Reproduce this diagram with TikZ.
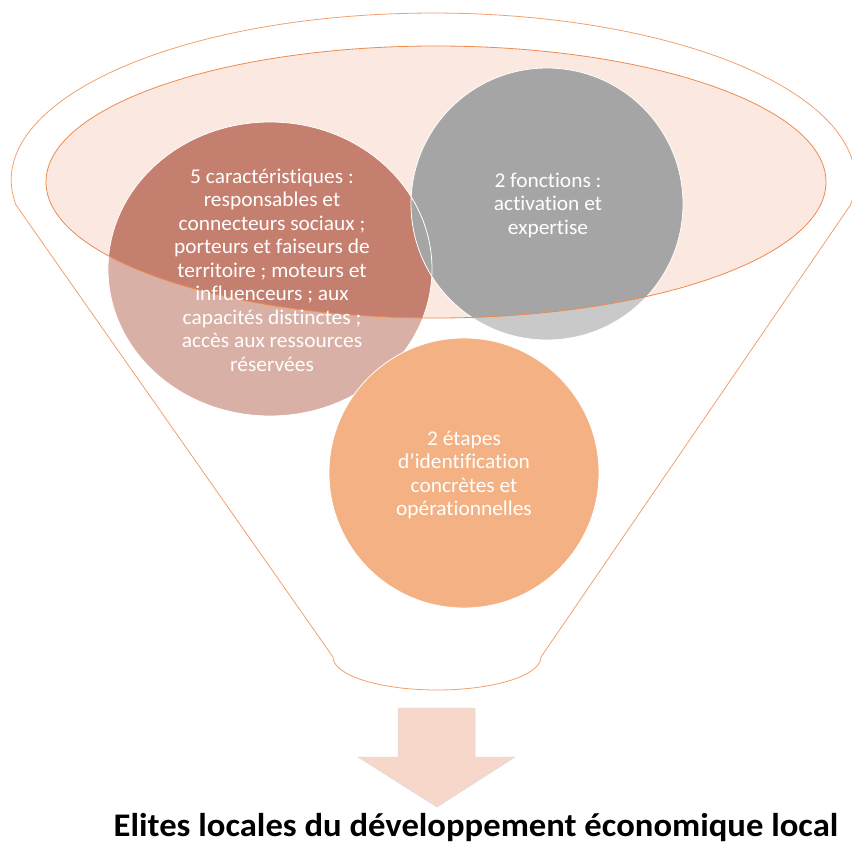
\documentclass[tikz,border=0pt]{standalone}
\usepackage{fontspec}
\setmainfont{Carlito}[Ligatures={NoCommon}]
\definecolor{peach}{HTML}{FBE9E1}
\definecolor{rim}{HTML}{EE8A4E}
\definecolor{funnelline}{HTML}{F2A06C}
\definecolor{browndark}{HTML}{C47F6E}
\definecolor{brownlight}{HTML}{D9B0A6}
\definecolor{graydark}{HTML}{A5A5A5}
\definecolor{graylight}{HTML}{C9C9C9}
\definecolor{orangec}{HTML}{F4B183}
\definecolor{arrowc}{HTML}{F8D7CB}
\tikzset{
  circtext/.style={text=white, align=center, font=\fontsize{21}{23.5}\selectfont, xscale=1.02},
  bubbleedge/.style={draw=white, line width=0.8pt},
}
\begin{document}
\begin{tikzpicture}[x=1pt,y=-1pt]
\useasboundingbox (0,0) rectangle (852,845);
% outer funnel outline
\draw[funnelline, line width=0.8pt]
  (16,205) arc[start angle=171.4, end angle=368.6, x radius=422, y radius=167]
  -- (541,657) arc[start angle=0, end angle=180, x radius=104, y radius=33] -- cycle;
% inner opening
\fill[peach] (436,182) ellipse[x radius=390, y radius=136];
% bubbles, light parts
\fill[brownlight] (270,269) ellipse[x radius=162, y radius=147];
\fill[graylight] (547,204) circle[radius=136];
% darker parts seen through the opening
\begin{scope}
  \clip (436,182) ellipse[x radius=390, y radius=136];
  \fill[browndark] (270,269) ellipse[x radius=162, y radius=147];
  \fill[graydark] (547,204) circle[radius=136];
\end{scope}
\draw[bubbleedge] (270,269) ellipse[x radius=162, y radius=147];
\draw[bubbleedge] (547,204) circle[radius=136];
\draw[rim, line width=0.8pt] (436,182) ellipse[x radius=390, y radius=136];
% orange bubble
\fill[orangec, draw=white, line width=0.8pt] (464,473) circle[radius=135];
% texts
\node[circtext] (t1) at (272,270) {5 caractéristiques :\\responsables et\\connecteurs sociaux ;\\porteurs et faiseurs de\\territoire ; moteurs et\\influenceurs ; aux\\capacités distinctes ;\\accès aux ressources\\réservées};
\node[circtext] (t2) at (548,205) {2 fonctions :\\activation et\\expertise};
\node[circtext] (t3) at (464,475) {2 étapes\\d’identification\\concrètes et\\opérationnelles};
% arrow
\fill[arrowc, draw=white!85!black, line width=0.5pt]
  (398,708) -- (475,708) -- (475,757) -- (515,757) -- (437,807) -- (358,757) -- (398,757) -- cycle;
% bottom label
\node[font=\bfseries\fontsize{33}{38}\selectfont, text=black, xscale=1.05] (lbl) at (476,828) {Elites locales du développement économique local};
\end{tikzpicture}
\end{document}
